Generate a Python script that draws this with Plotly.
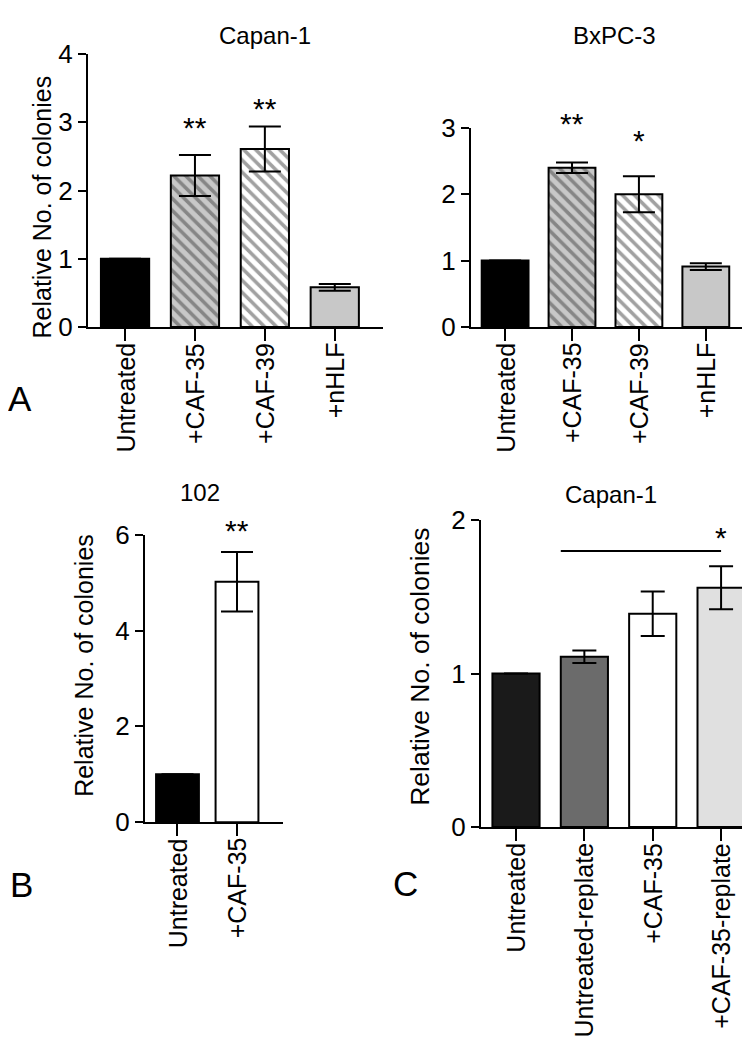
import plotly.graph_objects as go

W, H = 750, 1037

# ---------------- data ----------------
# Panel A, left: Capan-1
a1_categories = ["Untreated", "+CAF-35", "+CAF-39", "+nHLF"]
a1_values = [1.0, 2.22, 2.61, 0.58]
a1_errors = [0.0, 0.30, 0.33, 0.05]
a1_sig = ["", "**", "**", ""]

# Panel A, right: BxPC-3
a2_categories = ["Untreated", "+CAF-35", "+CAF-39", "+nHLF"]
a2_values = [1.0, 2.40, 2.00, 0.91]
a2_errors = [0.0, 0.08, 0.27, 0.05]
a2_sig = ["", "**", "*", ""]

# Panel B: 102
b_categories = ["Untreated", "+CAF-35"]
b_values = [1.0, 5.02]
b_errors = [0.0, 0.62]
b_sig = ["", "**"]

# Panel C: Capan-1 replate
c_categories = ["Untreated", "Untreated-replate", "+CAF-35", "+CAF-35-replate"]
c_values = [1.0, 1.11, 1.39, 1.56]
c_errors = [0.0, 0.04, 0.145, 0.14]
c_sig = ["", "", "", "*"]

# ---------------- styles / layout geometry ----------------
FONT = "Liberation Sans, Arial, Helvetica, sans-serif"
GRAY = "#c8c8c8"
TICK_FONT = 26
CAT_FONT = 25


def px_x(p):
    return p / W


def px_y(p):
    return 1 - p / H


# panel geometry: (x domain px, x range, y axis px bottom/top, y range)
PANELS = {
    "1": dict(xd=(80, 375), xr=(-0.53, 3.69), yd=(313, 32), yr=(0, 4), dtick=1),
    "2": dict(xd=(463, 750), xr=(-0.51, 3.78), yd=(313, 108), yr=(0, 3), dtick=1),
    "3": dict(xd=(137, 275), xr=(-0.546, 1.773), yd=(823, 527), yr=(0, 6), dtick=2),
    "4": dict(xd=(473, 750), xr=(-0.512, 3.54), yd=(828, 512), yr=(0, 2), dtick=1),
}


def data_to_paper_x(panel, xi):
    p = PANELS[panel]
    f = (xi - p["xr"][0]) / (p["xr"][1] - p["xr"][0])
    return px_x(p["xd"][0] + f * (p["xd"][1] - p["xd"][0]))


def data_to_paper_y(panel, yv):
    p = PANELS[panel]
    f = (yv - p["yr"][0]) / (p["yr"][1] - p["yr"][0])
    return px_y(p["yd"][0] + f * (p["yd"][1] - p["yd"][0]))


fig = go.Figure()

hatch = dict(fgcolor="black", size=8.5, solidity=0.42)

# Panel A1
fig.add_trace(go.Bar(
    x=a1_categories, y=a1_values, width=0.69,
    marker=dict(
        color=["black", GRAY, "white", GRAY],
        line=dict(color="black", width=2),
        pattern=dict(shape=["", "\\", "\\", ""],
                     bgcolor=["black", GRAY, "white", GRAY], **hatch),
    ),
    error_y=dict(type="data", array=a1_errors, color="black", thickness=2, width=16),
    xaxis="x", yaxis="y", showlegend=False,
))

# Panel A2
fig.add_trace(go.Bar(
    x=a2_categories, y=a2_values, width=0.70,
    marker=dict(
        color=["black", GRAY, "white", GRAY],
        line=dict(color="black", width=2),
        pattern=dict(shape=["", "\\", "\\", ""],
                     bgcolor=["black", GRAY, "white", GRAY], **hatch),
    ),
    error_y=dict(type="data", array=a2_errors, color="black", thickness=2, width=16),
    xaxis="x2", yaxis="y2", showlegend=False,
))

# Panel B
fig.add_trace(go.Bar(
    x=b_categories, y=b_values, width=0.72,
    marker=dict(color=["black", "white"], line=dict(color="black", width=2)),
    error_y=dict(type="data", array=b_errors, color="black", thickness=2, width=16),
    xaxis="x3", yaxis="y3", showlegend=False,
))

# Panel C
C_WIDTH = 0.69
fig.add_trace(go.Bar(
    x=c_categories, y=c_values, width=C_WIDTH,
    marker=dict(color=["#1a1a1a", "#6b6b6b", "white", "#e0e0e0"],
                line=dict(color="black", width=2)),
    error_y=dict(type="data", array=c_errors, color="black", thickness=2, width=12),
    xaxis="x4", yaxis="y4", showlegend=False,
))

axis_common = dict(showline=True, linecolor="black", linewidth=2, ticks="outside",
                   tickcolor="black", tickwidth=2, showgrid=False, zeroline=False,
                   tickfont=dict(family=FONT, size=TICK_FONT, color="black"), fixedrange=True)

cats = {"1": a1_categories, "2": a2_categories, "3": b_categories, "4": c_categories}
layout_axes = {}
for k, p in PANELS.items():
    sfx = "" if k == "1" else k
    layout_axes["xaxis" + sfx] = dict(
        axis_common, type="category", ticklen=12, showticklabels=False,
        domain=[px_x(p["xd"][0]), px_x(p["xd"][1])], range=list(p["xr"]),
        categoryorder="array", categoryarray=cats[k], anchor="y" + sfx)
    layout_axes["yaxis" + sfx] = dict(
        axis_common, ticklen=8,
        domain=[px_y(p["yd"][0]), px_y(p["yd"][1])], range=list(p["yr"]),
        dtick=p["dtick"], anchor="x" + sfx)

fig.update_layout(
    width=W, height=H,
    margin=dict(l=0, r=0, t=0, b=0),
    paper_bgcolor="white", plot_bgcolor="white",
    font=dict(family=FONT, color="black"),
    **layout_axes,
)

ann = []


def paper_text(text, xp, yp, size, angle=0, xanchor="center", yanchor="middle"):
    ann.append(dict(text=text, x=xp, y=yp, xref="paper", yref="paper",
                    xanchor=xanchor, yanchor=yanchor, showarrow=False, textangle=angle,
                    font=dict(family=FONT, size=size, color="black")))


# category labels (rotated, hanging below the tick marks)
for k, p in PANELS.items():
    for i, c in enumerate(cats[k]):
        paper_text(c, data_to_paper_x(k, i), px_y(p["yd"][0] + 14), CAT_FONT,
                   angle=-90, yanchor="top")

# titles
paper_text("Capan-1", px_x(257), px_y(13), 24)
paper_text("BxPC-3", px_x(606), px_y(13), 24)
paper_text("102", px_x(192), px_y(484), 24)
paper_text("Capan-1", px_x(603), px_y(486), 24)

# y-axis titles
paper_text("Relative No. of colonies", px_x(34), px_y(190), 25, -90)
paper_text("Relative No. of colonies", px_x(76), px_y(662), 25, -90)
paper_text("Relative No. of colonies", px_x(412), px_y(663), 26.5, -90)

# panel letters
paper_text("A", px_x(12), px_y(387), 35)
paper_text("B", px_x(13), px_y(887), 35)
paper_text("C", px_x(397), px_y(886), 35)

# significance marks: heights in each panel's data units
sig_heights = {
    "1": [None, 2.92, 3.20, None],
    "2": [None, 3.07, 2.81, None],
    "3": [None, 6.08],
    "4": [None, None, None, 1.89],
}
sigs = {"1": a1_sig, "2": a2_sig, "3": b_sig, "4": c_sig}
for k in PANELS:
    for i, (s, h) in enumerate(zip(sigs[k], sig_heights[k])):
        if s:
            paper_text(s, data_to_paper_x(k, i), data_to_paper_y(k, h), 30)

fig.update_layout(annotations=ann)

# comparison line in panel C
fig.add_shape(type="line", xref="x4", yref="y4", x0=1 - C_WIDTH / 2, x1=3, y0=1.8, y1=1.8,
              line=dict(color="black", width=2))

fig.write_html("out.html")
